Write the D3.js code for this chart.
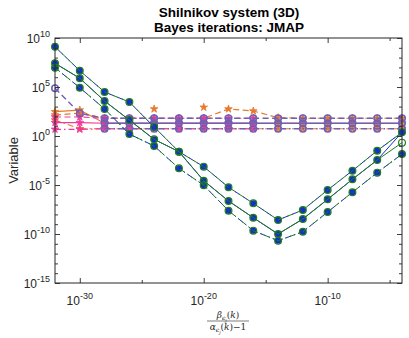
<!DOCTYPE html>
<html><head><meta charset="utf-8">
<script src="https://cdnjs.cloudflare.com/ajax/libs/d3/7.8.5/d3.min.js"></script>
<style>
html,body{margin:0;padding:0;background:#fff;}
svg{display:block;font-family:"Liberation Sans",Arial,Helvetica,sans-serif;}
</style></head>
<body><svg id="c" width="409" height="338"></svg>
<script>
// ---------- data (values given as log10 exponents) ----------
const xValues = [1e-32,1e-30,1e-28,1e-26,1e-24,1e-22,1e-20,1e-18,1e-16,1e-14,1e-12,1e-10,1e-8,1e-6,1e-4];
const yTickLabels = ["10","5","0","-5","-10","-15"];
const xTickLabels = ["-30","-20","-10"];

const greenDashedLog  = [9.11,6.66,4.49,3.47,0.92,-1.60,-3.13,-5.23,-6.87,-8.57,-7.55,-5.51,-3.54,-1.50,0.38];
const greenSolidLog   = [7.42,5.89,3.57,1.63,-0.34,-1.60,-4.56,-6.63,-8.34,-10.00,-8.47,-6.46,-4.42,-2.45,-0.68];
const greenDashDotLog = [6.97,4.93,2.76,0.20,-1.02,-3.30,-5.03,-7.62,-9.66,-10.68,-9.77,-7.76,-5.74,-3.74,-1.84];
const blueSolidLog    = [7.42,5.89,3.57,1.63,-0.34,-1.60,-4.56,-6.63,-8.34,-10.00,-8.47,-6.46,-4.42,-2.45,0.38];

const purpleDashedLog  = [4.87,2.32,1.81,1.81,1.81,1.81,1.81,1.81,1.81,1.81,1.81,1.81,1.81,1.81,1.81];
const purpleSolidLog   = [null,null,1.30,1.30,1.30,1.30,1.30,1.30,1.30,1.30,1.30,1.30,1.30,1.30,1.30];
const purpleDashDotLog = [null,null,0.74,0.74,0.74,0.74,0.74,0.74,0.74,0.74,0.74,0.74,0.74,0.74,0.74];

const orangeSolidLog   = [2.48,2.65,1.30,1.30,1.30,1.30,1.30,1.30,1.30,1.30,1.30,1.30,1.30,1.30,1.30];
const orangeDashedLog  = [2.14,2.32,1.81,1.81,1.81,1.81,1.81,2.76,2.55,1.87,1.81,1.81,1.81,1.81,1.81];
const orangeDashDotLog = [1.63,0.74,0.74,0.74,0.74,0.74,0.74,0.74,0.74,0.74,0.74,0.74,0.74,0.74,0.74];
const orangeExtraLog   = [null,null,null,null,2.76,null,2.93,null,null,null,null,null,null,null,null];

const pinkDashedLog    = [1.94,1.94,1.81,1.81,1.81,1.81,1.81,1.81,1.81,null,null,null,null,null,null];
const pinkSolidLog     = [1.36,1.36,1.30,1.30,1.30,1.30,1.30,1.30,1.30,null,null,null,null,null,null];
const pinkDashDotLog   = [0.68,0.68,0.74,0.74,0.74,0.74,0.74,0.74,0.74,null,null,null,null,null,null];

// ---------- setup ----------
const W=409,H=338, L=55,R=402,T=38,B=283;
const svg=d3.select("#c");
const x=d3.scaleLog().domain([1e-32,1e-4]).range([L,R]);
const y=d3.scaleLog().domain([1e-15,1e10]).range([B,T]);
const toPts = arr => arr.map((v,i)=>({x:xValues[i], v: v==null?null:Math.pow(10,v)}));

const COL={green:"#1f7d1f",blue:"#1530c8",purple:"#6f5fb5",orange:"#e8782e",pink:"#f0399a"};
const DASH={solid:null,dashed:"6,3.5",dashdot:"6,3,1.5,3"};

const plot=svg.append("g");
const line=d3.line().defined(d=>d.v!=null).x(d=>x(d.x)).y(d=>y(d.v));

function drawLine(arr,color,style,width,offset){
  plot.append("path").datum(toPts(arr)).attr("d",line)
    .attr("fill","none").attr("stroke",color).attr("stroke-width",width)
    .attr("stroke-dasharray",DASH[style]).attr("stroke-dashoffset",offset||0);
}
function drawCircles(arr,fill,stroke,r,sw){
  plot.append("g").selectAll("circle").data(toPts(arr).filter(d=>d.v!=null)).join("circle")
    .attr("cx",d=>x(d.x)).attr("cy",d=>y(d.v)).attr("r",r)
    .attr("fill",fill).attr("stroke",stroke).attr("stroke-width",sw);
}
const star=d3.symbol().type(d3.symbolStar).size(18);
function drawStars(arr,color){
  plot.append("g").selectAll("path").data(toPts(arr).filter(d=>d.v!=null)).join("path")
    .attr("d",star).attr("transform",d=>`translate(${x(d.x)},${y(d.v)})`)
    .attr("fill",color).attr("stroke",color).attr("stroke-width",0.8);
}

// orange series
drawLine(orangeSolidLog,COL.orange,"solid",1.2);
drawLine(orangeDashedLog,COL.orange,"dashed",1.2);
drawLine(orangeDashDotLog,COL.orange,"dashdot",1.2);
drawStars(orangeSolidLog,COL.orange);
drawStars(orangeDashedLog,COL.orange);
drawStars(orangeDashDotLog,COL.orange);
drawStars(orangeExtraLog,COL.orange);
// pink series
drawLine(pinkSolidLog,COL.pink,"solid",1.2);
drawLine(pinkDashedLog,COL.pink,"dashed",1.2);
drawLine(pinkDashDotLog,COL.pink,"dashdot",1.2);
drawStars(pinkSolidLog,COL.pink);
drawStars(pinkDashedLog,COL.pink);
drawStars(pinkDashDotLog,COL.pink);
// purple series
drawLine(purpleSolidLog,COL.purple,"solid",1.4);
drawLine(purpleDashedLog,COL.purple,"dashed",1.4);
drawLine(purpleDashDotLog,COL.purple,"dashdot",1.4);
drawCircles(purpleSolidLog,"none",COL.purple,3.2,1.6);
drawCircles(purpleDashedLog,"none",COL.purple,3.2,1.6);
drawCircles(purpleDashDotLog,"none",COL.purple,3.2,1.6);
// blue series (underneath green)
drawLine(blueSolidLog,COL.blue,"solid",1);
drawLine(greenDashedLog,COL.blue,"dashed",1,4.5);
drawLine(greenDashDotLog,COL.blue,"dashdot",1,4.5);
drawCircles(greenDashedLog,COL.blue,"none",3.2,0);
drawCircles(blueSolidLog,COL.blue,"none",3.2,0);
drawCircles(greenDashDotLog,COL.blue,"none",3.2,0);
// green series
drawLine(greenSolidLog,COL.green,"solid",1);
drawLine(greenDashedLog,COL.green,"dashed",1);
drawLine(greenDashDotLog,COL.green,"dashdot",1);
drawCircles(greenSolidLog,"none",COL.green,3.4,1.2);
drawCircles(greenDashedLog,"none",COL.green,3.4,1.2);
drawCircles(greenDashDotLog,"none",COL.green,3.4,1.2);

// ---------- axes ----------
const axCol="#262626";
const yMajor=[1e10,1e5,1e0,1e-5,1e-10,1e-15];
const yMinor=d3.range(-15,11).map(e=>Math.pow(10,e)).filter(v=>!yMajor.includes(v));
const xMajor=[1e-30,1e-20,1e-10];
const xMinor=[1e-25,1e-15,1e-5];
function ax(gen,scale,vals,size,tr){
  const g=svg.append("g").attr("transform",tr)
    .call(gen(scale).tickValues(vals).tickSize(size).tickFormat(""));
  g.select(".domain").remove();
  g.selectAll("line").attr("stroke",axCol).attr("stroke-width",0.9);
}
ax(d3.axisBottom,x,xMajor,-5,`translate(0,${B})`);
ax(d3.axisBottom,x,xMinor,-3,`translate(0,${B})`);
ax(d3.axisTop,x,xMajor,-5,`translate(0,${T})`);
ax(d3.axisTop,x,xMinor,-3,`translate(0,${T})`);
ax(d3.axisLeft,y,yMajor,-5,`translate(${L},0)`);
ax(d3.axisLeft,y,yMinor,-3,`translate(${L},0)`);
ax(d3.axisRight,y,yMajor,-5,`translate(${R},0)`);
ax(d3.axisRight,y,yMinor,-3,`translate(${R},0)`);
svg.append("rect").attr("x",L).attr("y",T).attr("width",R-L).attr("height",B-T)
  .attr("fill","none").attr("stroke",axCol).attr("stroke-width",1);

// y tick labels
yMajor.forEach((v,i)=>{
  const t=svg.append("text").attr("x",L-5).attr("y",y(v)+5).attr("text-anchor","end")
    .attr("font-size",12).attr("fill",axCol);
  t.append("tspan").text("10");
  t.append("tspan").attr("dy",-6).attr("font-size",9).text(yTickLabels[i]);
});
// x tick labels
xMajor.forEach((v,i)=>{
  const t=svg.append("text").attr("x",x(v)).attr("y",B+22).attr("text-anchor","middle")
    .attr("font-size",12).attr("fill",axCol);
  t.append("tspan").text("10");
  t.append("tspan").attr("dy",-6).attr("font-size",9).text(xTickLabels[i]);
});

// titles
svg.append("text").attr("x",229).attr("y",17).attr("text-anchor","middle")
  .attr("font-size",13.5).attr("font-weight","bold").attr("fill","#000").text("Shilnikov system (3D)");
svg.append("text").attr("x",229).attr("y",32).attr("text-anchor","middle")
  .attr("font-size",13.5).attr("font-weight","bold").attr("fill","#000").text("Bayes iterations: JMAP");

// y label
svg.append("text").attr("transform",`translate(18,${(T+B)/2}) rotate(-90)`)
  .attr("text-anchor","middle").attr("font-size",13).attr("fill",axCol).text("Variable");

// x label (fraction)
const fx=228;
const num=svg.append("text").attr("x",fx).attr("y",318).attr("text-anchor","middle")
  .attr("font-family","'DejaVu Serif','Liberation Serif',serif").attr("font-size",9).attr("fill",axCol);
num.append("tspan").attr("font-style","italic").text("β");
num.append("tspan").attr("font-style","italic").attr("font-size",6).attr("dy",2).text("ϵ");
num.append("tspan").attr("font-style","italic").attr("font-size",4.5).attr("dy",1.5).text("j");
num.append("tspan").attr("dy",-3.5).text("(");
num.append("tspan").attr("font-style","italic").text("k");
num.append("tspan").text(")");
svg.append("line").attr("x1",fx-21).attr("x2",fx+21).attr("y1",321).attr("y2",321)
  .attr("stroke",axCol).attr("stroke-width",0.6);
const den=svg.append("text").attr("x",fx).attr("y",330).attr("text-anchor","middle")
  .attr("font-family","'DejaVu Serif','Liberation Serif',serif").attr("font-size",9).attr("fill",axCol);
den.append("tspan").attr("font-style","italic").text("α");
den.append("tspan").attr("font-style","italic").attr("font-size",6).attr("dy",2).text("ϵ");
den.append("tspan").attr("font-style","italic").attr("font-size",4.5).attr("dy",1.5).text("j");
den.append("tspan").attr("dy",-3.5).text("(");
den.append("tspan").attr("font-style","italic").text("k");
den.append("tspan").text(")−1");
</script></body></html>
